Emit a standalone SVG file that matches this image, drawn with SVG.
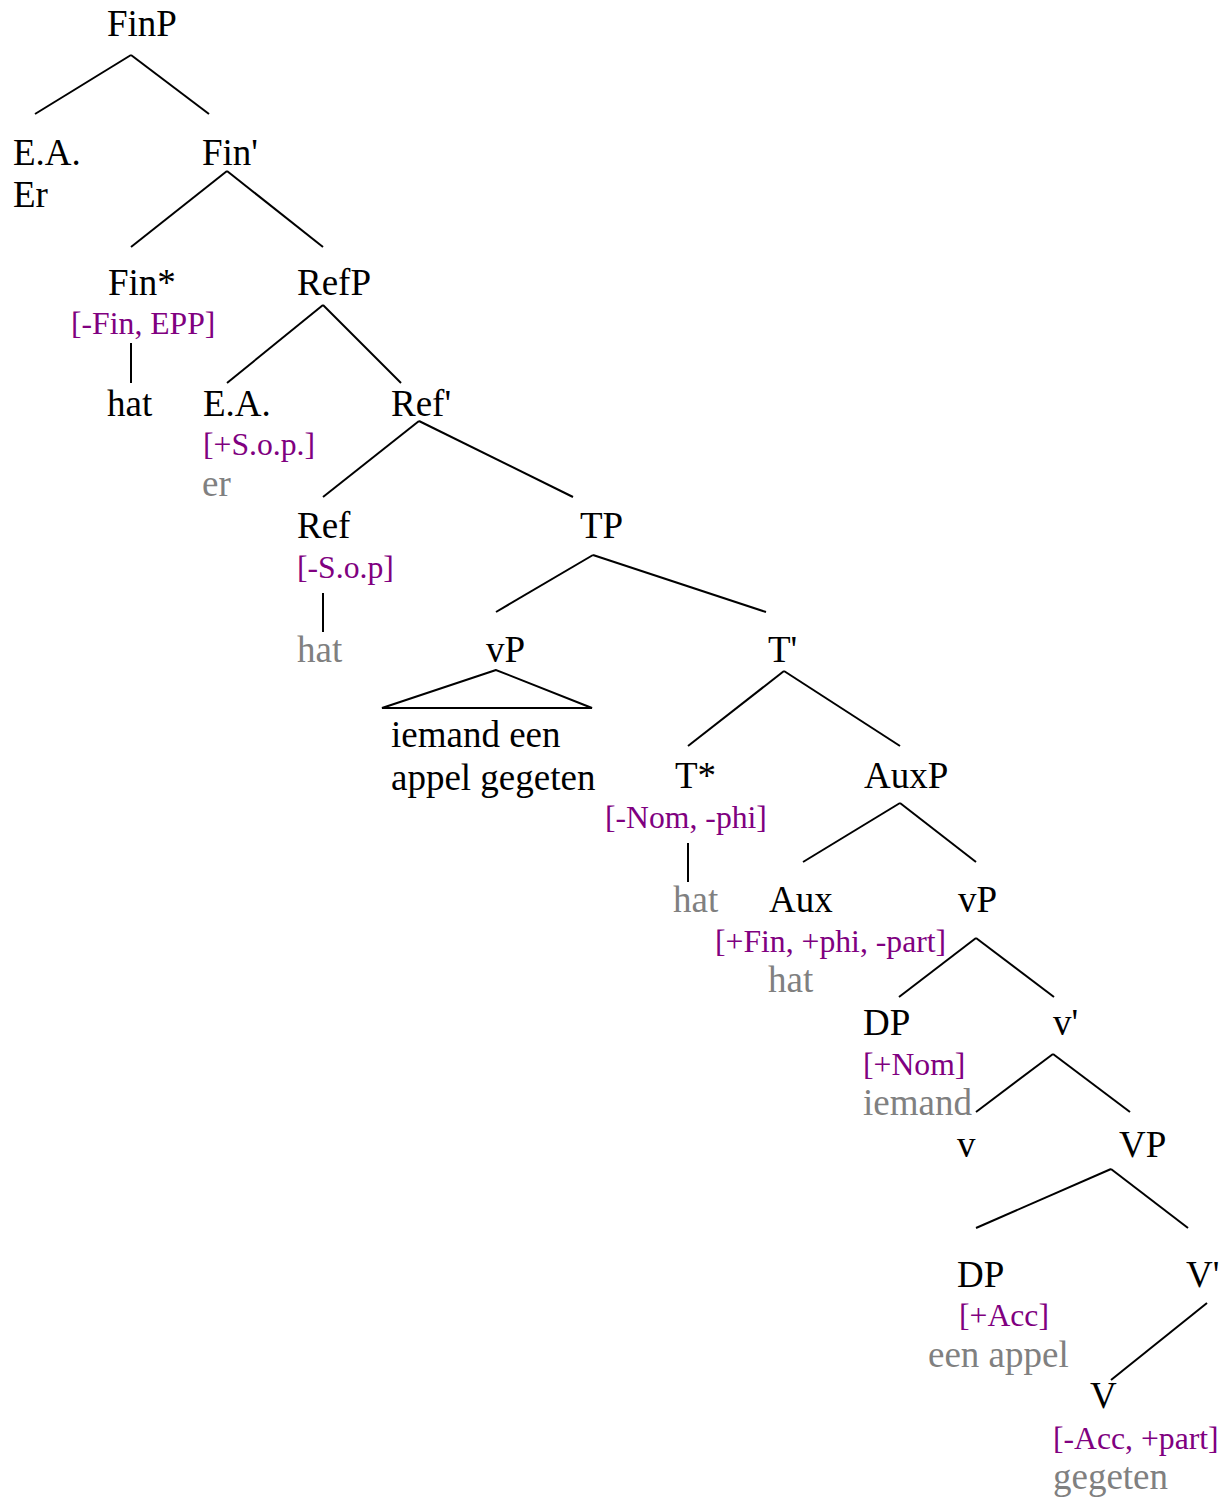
<svg xmlns="http://www.w3.org/2000/svg" width="1227" height="1499" viewBox="0 0 1227 1499">
<style>
text{font-family:"Liberation Serif","Times New Roman",serif;font-size:37px;fill:#000}
.f{font-size:31.7px;fill:#800080}
.g{fill:#808080}
.e line,.e path{stroke:#000;stroke-width:2;fill:none}
</style>
<rect width="1227" height="1499" fill="#fff"/>
<g class="e" id="connectors">
<line x1="131" y1="55" x2="35" y2="114"/>
<line x1="131" y1="55" x2="209" y2="114"/>
<line x1="227" y1="171" x2="131" y2="247"/>
<line x1="227" y1="171" x2="323" y2="247"/>
<line x1="131" y1="343" x2="131" y2="383"/>
<line x1="323" y1="305" x2="227" y2="383"/>
<line x1="323" y1="305" x2="401" y2="383"/>
<line x1="419" y1="421" x2="323" y2="497"/>
<line x1="419" y1="421" x2="573" y2="497"/>
<line x1="323" y1="593" x2="323" y2="632"/>
<line x1="593" y1="555" x2="496" y2="612"/>
<line x1="593" y1="555" x2="766" y2="612"/>
<path d="M496 670 L382 708 L592 708 Z"/>
<line x1="784" y1="671" x2="688" y2="746"/>
<line x1="784" y1="671" x2="900" y2="746"/>
<line x1="688" y1="843" x2="688" y2="882"/>
<line x1="900" y1="803" x2="803" y2="862"/>
<line x1="900" y1="803" x2="976" y2="862"/>
<line x1="976" y1="938" x2="899" y2="997"/>
<line x1="976" y1="938" x2="1054" y2="997"/>
<line x1="1053" y1="1054" x2="976" y2="1112"/>
<line x1="1053" y1="1054" x2="1130" y2="1112"/>
<line x1="1111" y1="1169" x2="976" y2="1228"/>
<line x1="1111" y1="1169" x2="1188" y2="1228"/>
<line x1="1207" y1="1303" x2="1111" y2="1380"/>
</g>
<g id="FinP"><text x="107" y="36">FinP</text></g>
<g id="EA1"><text x="13" y="165">E.A.</text><text x="13" y="207">Er</text></g>
<g id="FinBar"><text x="202" y="165">Fin'</text></g>
<g id="FinStar"><text x="108" y="295">Fin*</text><text class="f" x="71" y="334">[-Fin, EPP]</text></g>
<g id="hat1"><text x="107" y="416">hat</text></g>
<g id="RefP"><text x="297" y="295">RefP</text></g>
<g id="EA2"><text x="203" y="416">E.A.</text><text class="f" x="203" y="455">[+S.o.p.]</text><text class="g" x="202" y="496">er</text></g>
<g id="RefBar"><text x="391" y="416">Ref'</text></g>
<g id="Ref"><text x="297" y="538">Ref</text><text class="f" x="297" y="578">[-S.o.p]</text></g>
<g id="hat2"><text class="g" x="297" y="662">hat</text></g>
<g id="TP"><text x="580" y="538">TP</text></g>
<g id="vP1"><text x="486" y="662">vP</text><text x="391" y="747">iemand een</text><text x="391" y="790">appel gegeten</text></g>
<g id="TBar"><text x="768" y="662">T'</text></g>
<g id="TStar"><text x="675" y="788">T*</text><text class="f" x="605" y="828">[-Nom, -phi]</text></g>
<g id="hat3"><text class="g" x="673" y="912">hat</text></g>
<g id="AuxP"><text x="864" y="788">AuxP</text></g>
<g id="Aux"><text x="769" y="912">Aux</text><text class="f" x="715" y="952">[+Fin, +phi, -part]</text><text class="g" x="768" y="992">hat</text></g>
<g id="vP2"><text x="958" y="912">vP</text></g>
<g id="DP1"><text x="863" y="1035">DP</text><text class="f" x="863" y="1075">[+Nom]</text><text class="g" x="863" y="1115">iemand</text></g>
<g id="vBar"><text x="1053" y="1035">v'</text></g>
<g id="v"><text x="957" y="1157">v</text></g>
<g id="VP"><text x="1119" y="1157">VP</text></g>
<g id="DP2"><text x="957" y="1287">DP</text><text class="f" x="959" y="1326">[+Acc]</text><text class="g" x="928" y="1367">een appel</text></g>
<g id="VBar"><text x="1186" y="1287">V'</text></g>
<g id="V"><text x="1090" y="1408">V</text><text class="f" x="1053" y="1449">[-Acc, +part]</text><text class="g" x="1053" y="1489">gegeten</text></g>
</svg>
